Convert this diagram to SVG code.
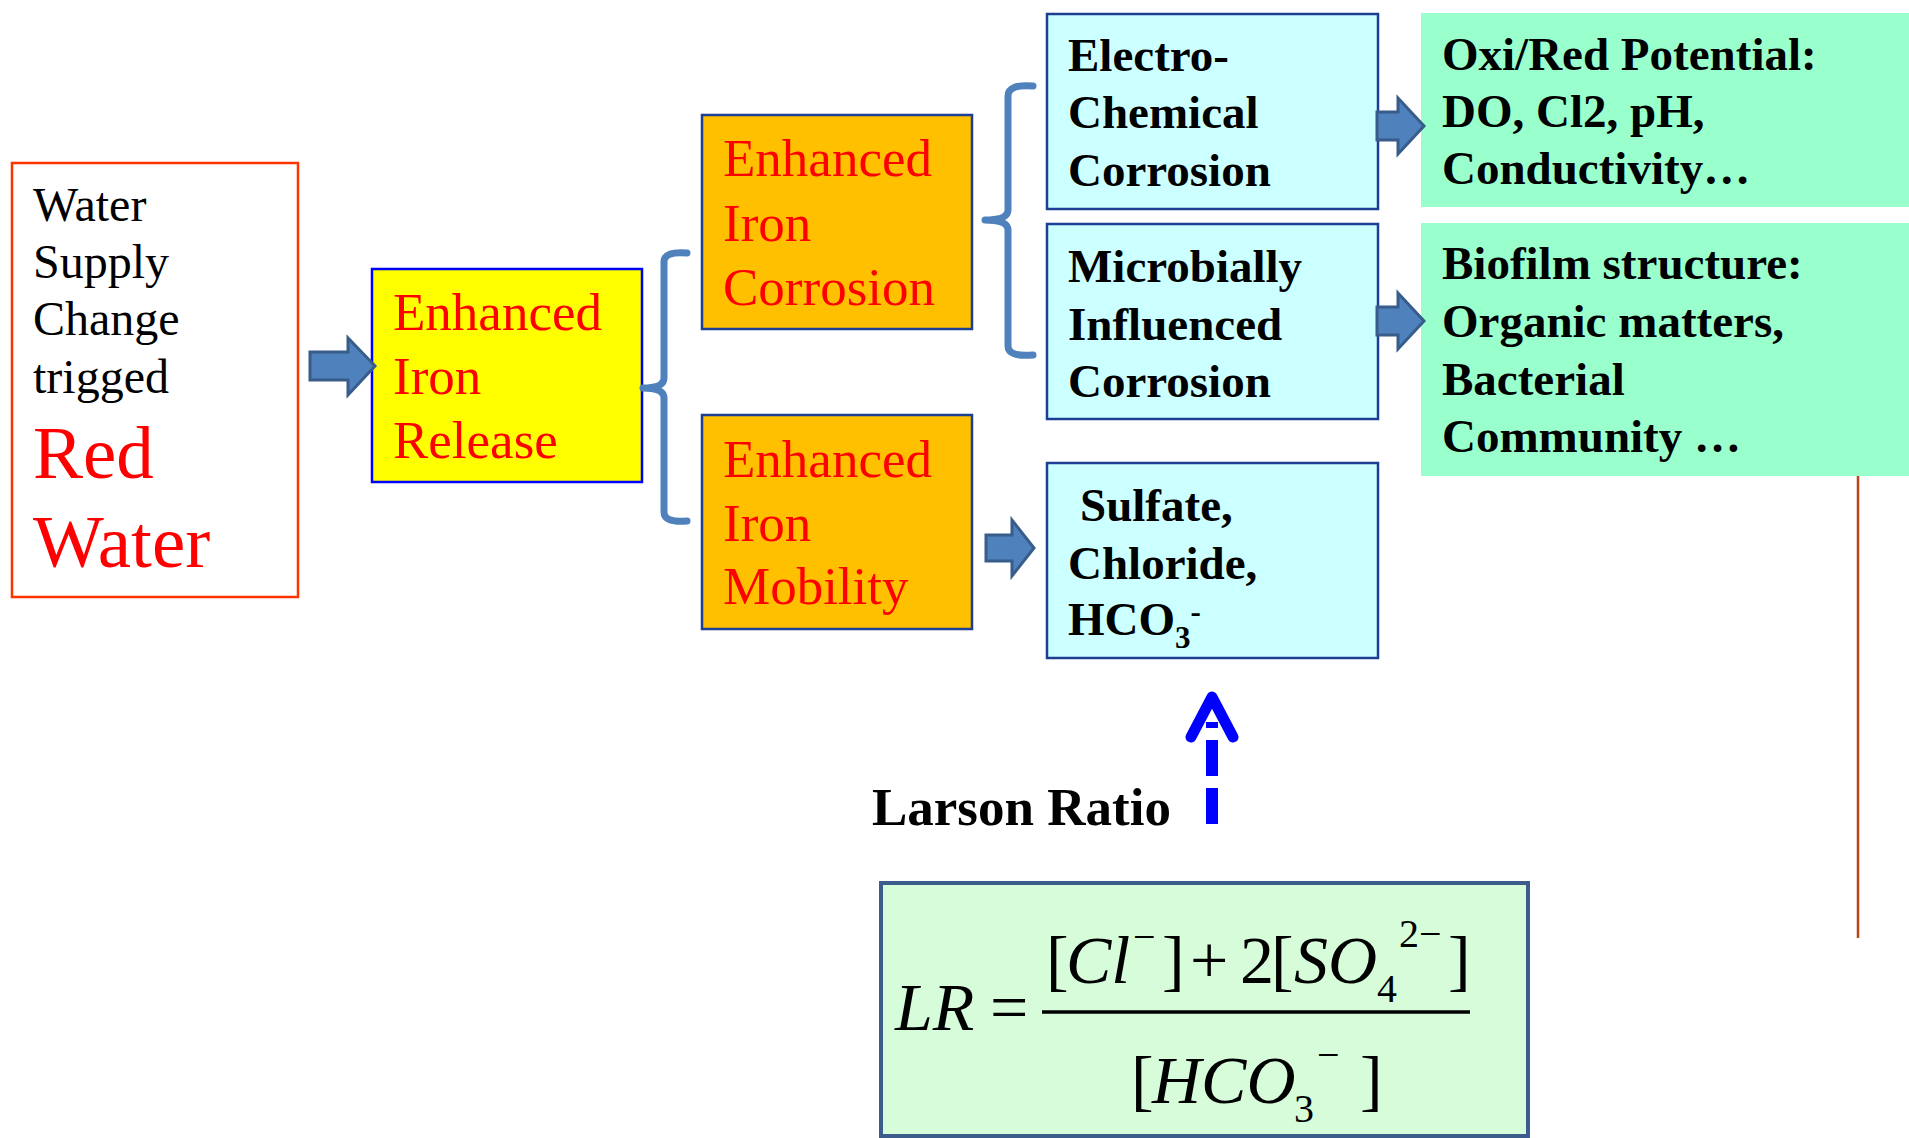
<svg xmlns="http://www.w3.org/2000/svg" width="1909" height="1138" viewBox="0 0 1909 1138">
<style>
text{font-family:"Liberation Serif","Times New Roman",serif}
.t48{font-size:48px;fill:#000}
.red{fill:#ff0000}
.r53{font-size:53px;fill:#ff0000}
.b47{font-size:47px;font-weight:bold;fill:#000}
.blk{fill:#4f81bd;stroke:#385d8a;stroke-width:3;stroke-linejoin:miter}
.brace{fill:none;stroke:#4f81bd;stroke-width:7;stroke-linecap:round;stroke-linejoin:round}
.orange{fill:#ffc000;stroke:#1c3f94;stroke-width:2.5}
.cyan{fill:#ccffff;stroke:#1c3f94;stroke-width:2.5}
.green{fill:#99ffcc}
.m{font-size:68px;fill:#000}
.mi{font-size:68px;font-style:italic;fill:#000}
.ms{font-size:40px;fill:#000}
</style>
<rect width="1909" height="1138" fill="#ffffff"/>

<g id="node-red-water">
<rect x="12" y="163" width="286" height="434" fill="#ffffff" stroke="#ff3300" stroke-width="2.5"/>
<text class="t48" x="33" y="221">Water</text>
<text class="t48" x="33" y="278">Supply</text>
<text class="t48" x="33" y="335">Change</text>
<text class="t48" x="33" y="393">trigged</text>
<text class="red" x="33" y="478" font-size="75">Red</text>
<text class="red" x="33" y="567" font-size="75">Water</text>
</g>

<g id="node-iron-release">
<rect x="372" y="269" width="270" height="213" fill="#ffff00" stroke="#0000ff" stroke-width="2.5"/>
<text class="r53" x="393" y="330">Enhanced</text>
<text class="r53" x="393" y="394">Iron</text>
<text class="r53" x="393" y="458">Release</text>
</g>

<g id="node-iron-corrosion">
<rect class="orange" x="702" y="115" width="270" height="214"/>
<text class="r53" x="723" y="176">Enhanced</text>
<text class="r53" x="723" y="241">Iron</text>
<text class="r53" x="723" y="305">Corrosion</text>
</g>

<g id="node-iron-mobility">
<rect class="orange" x="702" y="415" width="270" height="214"/>
<text class="r53" x="723" y="477">Enhanced</text>
<text class="r53" x="723" y="541">Iron</text>
<text class="r53" x="723" y="604">Mobility</text>
</g>

<g id="node-electrochemical">
<rect class="cyan" x="1047" y="14" width="331" height="195"/>
<text class="b47" x="1068" y="71">Electro-</text>
<text class="b47" x="1068" y="128">Chemical</text>
<text class="b47" x="1068" y="186">Corrosion</text>
</g>

<g id="node-microbial">
<rect class="cyan" x="1047" y="224" width="331" height="195"/>
<text class="b47" x="1068" y="282">Microbially</text>
<text class="b47" x="1068" y="340">Influenced</text>
<text class="b47" x="1068" y="397">Corrosion</text>
</g>

<g id="node-ions">
<rect class="cyan" x="1047" y="463" width="331" height="195"/>
<text class="b47" x="1080" y="521">Sulfate,</text>
<text class="b47" x="1068" y="579">Chloride,</text>
<text class="b47" x="1068" y="635">HCO<tspan font-size="31" dy="13">3</tspan><tspan font-size="31" dy="-26">-</tspan></text>
</g>

<g id="node-oxired">
<rect class="green" x="1421" y="13" width="488" height="194"/>
<text class="b47" x="1442" y="70">Oxi/Red Potential:</text>
<text class="b47" x="1442" y="127">DO, Cl2, pH,</text>
<text class="b47" x="1442" y="184">Conductivity…</text>
</g>

<g id="node-biofilm">
<rect class="green" x="1421" y="223" width="488" height="253"/>
<text class="b47" x="1442" y="279">Biofilm structure:</text>
<text class="b47" x="1442" y="337">Organic matters,</text>
<text class="b47" x="1442" y="395">Bacterial</text>
<text class="b47" x="1442" y="452">Community …</text>
</g>

<g id="node-larson-label">
<text x="872" y="825" font-size="53" font-weight="bold" fill="#000">Larson Ratio</text>
</g>

<g id="node-formula">
<rect x="881" y="883" width="647" height="253" fill="#d6fcd9" stroke="#3c5c8c" stroke-width="4"/>
<text class="mi" x="895" y="1030" font-size="72">LR</text>
<text class="m" x="990" y="1030" font-size="72">=</text>
<line x1="1042" y1="1012" x2="1470" y2="1012" stroke="#000" stroke-width="3.5"/>
<text class="m" x="1046" y="983">[</text>
<text class="mi" x="1066" y="983">Cl</text>
<text class="ms" x="1133" y="950">−</text>
<text class="m" x="1162" y="983">]</text>
<text class="m" x="1190" y="983">+</text>
<text class="m" x="1240" y="983">2</text>
<text class="m" x="1271" y="983">[</text>
<text class="mi" x="1294" y="983">SO</text>
<text class="ms" x="1377" y="1002">4</text>
<text class="ms" x="1399" y="947">2−</text>
<text class="m" x="1448" y="983">]</text>
<text class="m" x="1131" y="1103">[</text>
<text class="mi" x="1152" y="1103">HCO</text>
<text class="ms" x="1294" y="1122">3</text>
<text class="ms" x="1317" y="1068">−</text>
<text class="m" x="1360" y="1103">]</text>
</g>

<g id="connectors">
<path class="blk" d="M310,352 L348,352 L348,338 L375,366 L348,395 L348,380 L310,380 Z"/>
<path class="blk" d="M986,535 L1012,535 L1012,520 L1034,548 L1012,576 L1012,561 L986,561 Z"/>
<path class="blk" d="M1377,112 L1398,112 L1398,98 L1424,126 L1398,154 L1398,140 L1377,140 Z"/>
<path class="blk" d="M1377,307 L1398,307 L1398,293 L1424,321 L1398,349 L1398,335 L1377,335 Z"/>
<path class="brace" d="M687,253 Q664,251 664,262 L664,378 Q664,388 643,388 Q664,388 664,398 L664,512 Q664,523 687,521"/>
<path class="brace" d="M1033,86 Q1008,84 1008,96 L1008,210 Q1008,220 985,220 Q1008,220 1008,230 L1008,346 Q1008,357 1033,355"/>
<line x1="1858" y1="476" x2="1858" y2="938" stroke="#b8461a" stroke-width="2.5"/>
<line x1="1212" y1="824" x2="1212" y2="722" stroke="#0000ff" stroke-width="12" stroke-dasharray="36 12"/>
<polyline points="1191,737 1212,697 1233,737" fill="none" stroke="#0000ff" stroke-width="11" stroke-linecap="round" stroke-linejoin="round"/>
</g>
</svg>
